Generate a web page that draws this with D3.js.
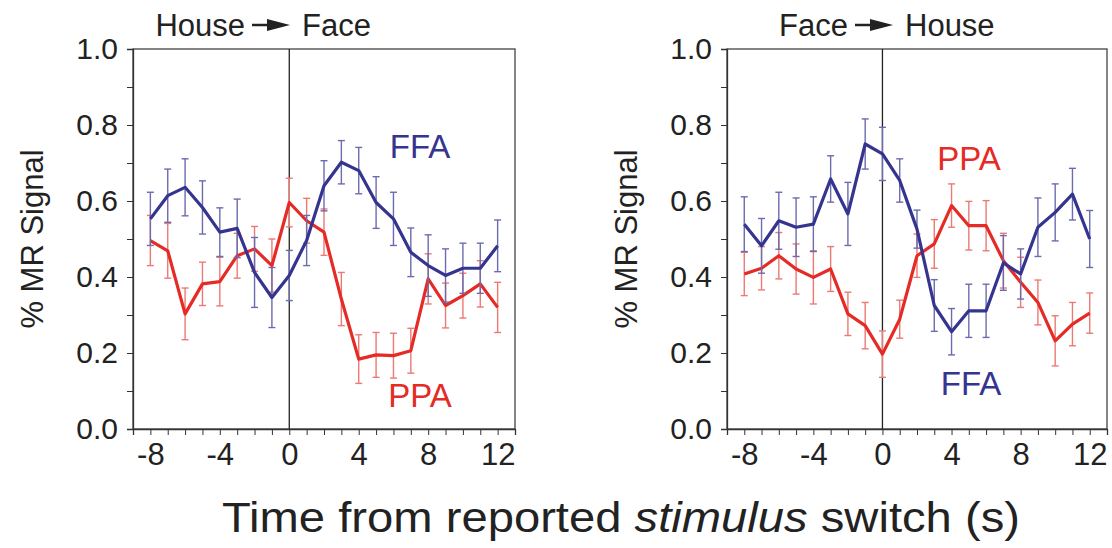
<!DOCTYPE html>
<html>
<head>
<meta charset="utf-8">
<script src="https://cdn.jsdelivr.net/npm/d3@7"></script>
<style>
  body { margin: 0; background: #fff; }
  svg text { font-family: "Liberation Sans", Arial, sans-serif; }
  .axis path, .axis line { stroke: #333; }
  .axis text { fill: #222; }
</style>
</head>
<body>
<svg id="chart" width="1112" height="548"></svg>
<script>
// time points (s)
var times = d3.range(-8, 13, 1);

// House -> Face panel
var hfFFA = [0.553, 0.614, 0.636, 0.583, 0.518, 0.528, 0.412, 0.346, 0.404, 0.496, 0.640,
             0.702, 0.680, 0.596, 0.553, 0.465, 0.430, 0.404, 0.423, 0.423, 0.482];
var hfFFAerr = [0.070, 0.070, 0.075, 0.070, 0.064, 0.077, 0.092, 0.079, 0.066, 0.066, 0.066,
                0.057, 0.061, 0.068, 0.070, 0.064, 0.081, 0.070, 0.066, 0.066, 0.068];
var hfPPA = [0.496, 0.469, 0.303, 0.382, 0.388, 0.456, 0.474, 0.430, 0.596, 0.548, 0.518,
             0.342, 0.184, 0.195, 0.193, 0.206, 0.395, 0.325, 0.351, 0.382, 0.320];
var hfPPAerr = [0.066, 0.072, 0.068, 0.057, 0.064, 0.059, 0.059, 0.070, 0.064, 0.059, 0.061,
                0.070, 0.064, 0.059, 0.059, 0.059, 0.066, 0.059, 0.059, 0.061, 0.066];

// Face -> House panel
var fhFFA = [0.539, 0.482, 0.548, 0.531, 0.539, 0.658, 0.566, 0.750, 0.724, 0.654, 0.526,
             0.325, 0.256, 0.311, 0.311, 0.437, 0.408, 0.531, 0.570, 0.618, 0.500];
var fhFFAerr = [0.072, 0.072, 0.075, 0.077, 0.072, 0.061, 0.083, 0.066, 0.070, 0.057, 0.050,
                0.068, 0.061, 0.070, 0.070, 0.072, 0.066, 0.077, 0.075, 0.068, 0.075];
var fhPPA = [0.408, 0.423, 0.456, 0.421, 0.399, 0.421, 0.303, 0.272, 0.197, 0.289, 0.456,
             0.487, 0.588, 0.535, 0.535, 0.443, 0.386, 0.333, 0.232, 0.276, 0.305];
var fhPPAerr = [0.057, 0.057, 0.061, 0.066, 0.070, 0.059, 0.057, 0.061, 0.061, 0.050, 0.057,
                0.064, 0.057, 0.064, 0.066, 0.072, 0.066, 0.059, 0.066, 0.057, 0.053];

var xTickLabels = [-8, -4, 0, 4, 8, 12];

var blue = "#35358f", blueErr = "#6b6bb0";
var red = "#e52b25", redErr = "#ec7a74";

var svg = d3.select("#chart");

var panels = [
  {left: 133, right: 515, from: "House", to: "Face", arrowC: 271,
   ffa: hfFFA, ffaErr: hfFFAerr, ppa: hfPPA, ppaErr: hfPPAerr,
   ffaLabel: [420, 158], ppaLabel: [420, 407], ylabX: 43},
  {left: 727, right: 1107, from: "Face", to: "House", arrowC: 874,
   ffa: fhFFA, ffaErr: fhFFAerr, ppa: fhPPA, ppaErr: fhPPAerr,
   ffaLabel: [971, 395], ppaLabel: [969, 170], ylabX: 637}
];

var topY = 49, bottomY = 429;

panels.forEach(function(p) {
  var x = d3.scaleLinear().domain([-9, 13]).range([p.left, p.right]);
  var y = d3.scaleLinear().domain([0, 1]).range([bottomY, topY]);
  var g = svg.append("g");

  // frame
  g.append("rect")
    .attr("x", p.left).attr("y", topY)
    .attr("width", p.right - p.left).attr("height", bottomY - topY)
    .attr("fill", "none").attr("stroke", "#444").attr("stroke-width", 1.3);

  // zero line
  g.append("line")
    .attr("x1", x(0)).attr("x2", x(0))
    .attr("y1", topY).attr("y2", bottomY)
    .attr("stroke", "#222").attr("stroke-width", 1.3);

  // y axis
  var yAxis = g.append("g")
    .attr("class", "axis")
    .attr("transform", "translate(" + p.left + ",0)")
    .call(d3.axisLeft(y).tickValues(d3.range(0, 1.001, 0.1)).tickSize(6).tickPadding(9)
      .tickFormat(function(d) {
        var r = Math.round(d * 10);
        return r % 2 === 0 ? d3.format(".1f")(d) : "";
      }));
  yAxis.select(".domain").attr("stroke-width", 1.3);
  yAxis.selectAll("text").style("font-size", "30px");

  // x axis
  var xAxis = g.append("g")
    .attr("class", "axis")
    .attr("transform", "translate(0," + bottomY + ")")
    .call(d3.axisBottom(x).tickValues(times).tickSize(6).tickPadding(8)
      .tickFormat(function(d) { return xTickLabels.indexOf(d) >= 0 ? d : ""; }));
  xAxis.select(".domain").attr("stroke-width", 1.3);
  xAxis.selectAll("text").style("font-size", "31px");

  // y label
  g.append("text")
    .attr("transform", "rotate(-90)")
    .attr("x", -(topY + bottomY) / 2)
    .attr("y", p.ylabX)
    .attr("text-anchor", "middle")
    .style("font-size", "31px")
    .attr("fill", "#222")
    .text("% MR Signal");

  // title with arrow
  var c = p.arrowC;
  g.append("text").attr("x", c - 26).attr("y", 36).attr("text-anchor", "end")
    .style("font-size", "31px").attr("fill", "#222").text(p.from);
  g.append("line").attr("x1", c - 19).attr("x2", c).attr("y1", 25).attr("y2", 25)
    .attr("stroke", "#222").attr("stroke-width", 2.5);
  g.append("path").attr("d", "M" + (c - 4) + ",19 L" + (c + 19) + ",25 L" + (c - 4) + ",31 Z")
    .attr("fill", "#222");
  g.append("text").attr("x", c + 31).attr("y", 36).attr("text-anchor", "start")
    .style("font-size", "31px").attr("fill", "#222").text(p.to);

  var line = d3.line()
    .x(function(d) { return x(d.t); })
    .y(function(d) { return y(d.v); });

  function drawSeries(vals, errs, col, errCol) {
    var data = times.map(function(t, i) { return {t: t, v: vals[i], e: errs[i]}; });
    var eb = g.append("g").attr("stroke", errCol).attr("stroke-width", 1.4);
    data.forEach(function(d) {
      eb.append("line").attr("x1", x(d.t)).attr("x2", x(d.t))
        .attr("y1", y(d.v - d.e)).attr("y2", y(d.v + d.e));
      eb.append("line").attr("x1", x(d.t) - 3.5).attr("x2", x(d.t) + 3.5)
        .attr("y1", y(d.v - d.e)).attr("y2", y(d.v - d.e));
      eb.append("line").attr("x1", x(d.t) - 3.5).attr("x2", x(d.t) + 3.5)
        .attr("y1", y(d.v + d.e)).attr("y2", y(d.v + d.e));
    });
    g.append("path").datum(data)
      .attr("d", line)
      .attr("fill", "none")
      .attr("stroke", col)
      .attr("stroke-width", 3.2)
      .attr("stroke-linejoin", "round");
  }

  drawSeries(p.ppa, p.ppaErr, red, redErr);
  drawSeries(p.ffa, p.ffaErr, blue, blueErr);

  g.append("text").attr("x", p.ffaLabel[0]).attr("y", p.ffaLabel[1])
    .attr("text-anchor", "middle").style("font-size", "33px").attr("fill", blue).text("FFA");
  g.append("text").attr("x", p.ppaLabel[0]).attr("y", p.ppaLabel[1])
    .attr("text-anchor", "middle").style("font-size", "33px").attr("fill", red).text("PPA");
});

// shared x label
var xl = svg.append("text")
  .attr("x", 222).attr("y", 532)
  .attr("textLength", 798)
  .attr("lengthAdjust", "spacingAndGlyphs")
  .style("font-size", "42px")
  .attr("fill", "#222");
xl.append("tspan").text("Time from reported ");
xl.append("tspan").style("font-style", "italic").text("stimulus");
xl.append("tspan").text(" switch (s)");
</script>
</body>
</html>
